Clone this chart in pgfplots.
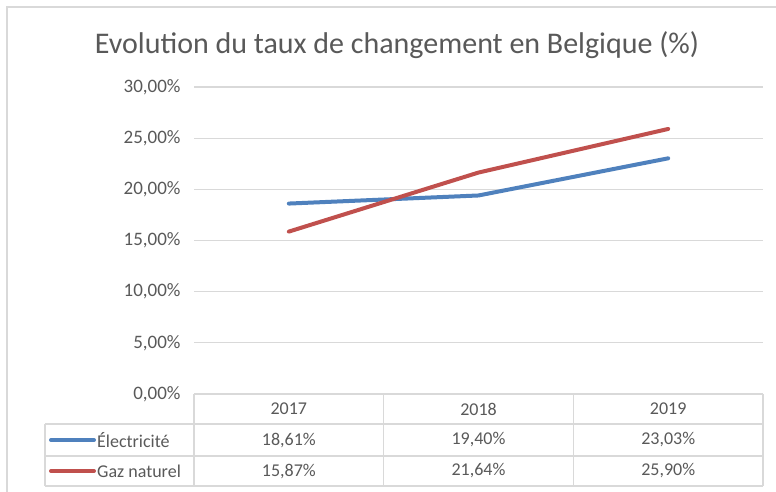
\documentclass[border=0pt]{standalone}
\usepackage{pgfplots}
\pgfplotsset{compat=1.18}
\usepackage{fontspec}
\setmainfont{Carlito}
\definecolor{eblue}{HTML}{4F81BD}
\definecolor{ered}{HTML}{C0504D}
\definecolor{txt}{HTML}{595959}
\definecolor{gridc}{HTML}{D9D9D9}
\begin{document}
\begin{tikzpicture}[x=1pt,y=1pt]
\useasboundingbox (0,0) rectangle (776,491);
\fill[white] (0,0) rectangle (776,491);
\draw[gridc, line width=1.3] (7,-20) -- (7,484) -- (800,484);
\node[txt, font=\fontsize{30}{34}\selectfont] at (397,446) {Evolution du taux de changement en Belgique (\%)};
\begin{axis}[at={(194pt,97pt)}, anchor=south west, scale only axis,
  width=569pt, height=307pt,
  xmin=0, xmax=3, ymin=0, ymax=30,
  axis line style={draw=none},
  tick style={draw=none},
  xtick=\empty,
  ytick={0,5,10,15,20,25,30},
  yticklabels={{0,00\%},{5,00\%},{10,00\%},{15,00\%},{20,00\%},{25,00\%},{30,00\%}},
  yticklabel style={txt, font=\fontsize{19}{22}\selectfont, xshift=-10pt},
  ymajorgrids, grid style={gridc, line width=1.3},
  clip=false]
\addplot[eblue, line width=4, line cap=round, line join=round] coordinates {(0.5,18.61) (1.5,19.40) (2.5,23.03)};
\addplot[ered, line width=4, line cap=round, line join=round] coordinates {(0.5,15.87) (1.5,21.64) (2.5,25.90)};
\end{axis}
% data table
\begin{scope}[gridc, line width=1.3]
\draw (194,97) -- (763,97);
\draw (45,67) -- (763,67);
\draw (45,35) -- (763,35);
\draw (45,5) -- (763,5);
\draw (45,67) -- (45,5);
\draw (194,97) -- (194,5);
\draw (383.7,97) -- (383.7,5);
\draw (573.3,97) -- (573.3,5);
\draw (763,97) -- (763,5);
\end{scope}
\begin{scope}[every node/.style={txt, font=\fontsize{18}{22}\selectfont}]
\node at (288.8,82) {2017};
\node at (478.5,82) {2018};
\node at (668.2,82) {2019};
\node at (288.8,51) {18,61\%};
\node at (478.5,51) {19,40\%};
\node at (668.2,51) {23,03\%};
\node at (288.8,20) {15,87\%};
\node at (478.5,20) {21,64\%};
\node at (668.2,20) {25,90\%};
\node[anchor=west, inner sep=0pt] at (97,51) {Électricité};
\node[anchor=west, inner sep=0pt] at (97,20) {Gaz naturel};
\end{scope}
\draw[eblue, line width=4, line cap=round] (51,51) -- (94,51);
\draw[ered, line width=4, line cap=round] (51,20) -- (94,20);
\end{tikzpicture}
\end{document}
